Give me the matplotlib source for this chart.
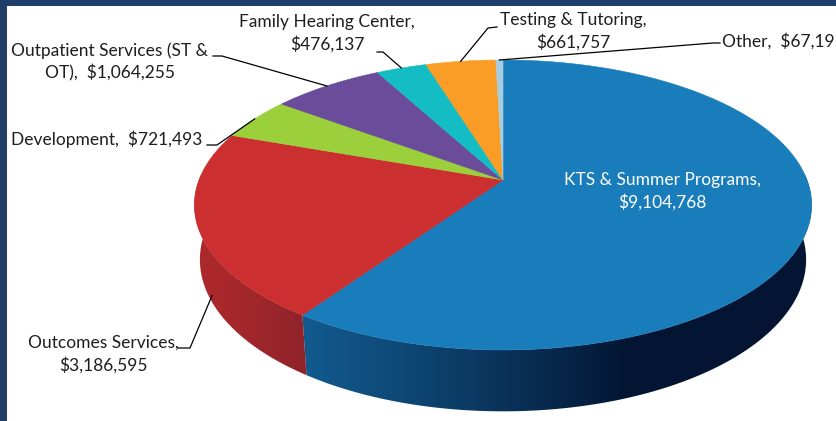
import numpy as np
import matplotlib
matplotlib.use('Agg')
import matplotlib.pyplot as plt
from matplotlib.patches import Polygon, Rectangle

# data (clockwise from 12 o'clock)
categories = ['KTS & Summer Programs', 'Outcomes Services', 'Development',
              'Outpatient Services (ST & OT)', 'Family Hearing Center',
              'Testing & Tutoring', 'Other']
values = [9104768, 3186595, 721493, 1064255, 476137, 661757, 67195]
colors = ['#1a7dbb', '#cc2f2f', '#9bcf3b', '#6a4c9a', '#14bcc4', '#f99d27', '#a6cde0']
# label text as wrapped in the chart
label_names = ['KTS & Summer Programs,\n', 'Outcomes Services,\n', 'Development,  ',
               'Outpatient Services (ST &\nOT),  ', 'Family Hearing Center,\n',
               'Testing & Tutoring,\n', 'Other,  ']

W, H = 837, 421
fig = plt.figure(figsize=(W / 100, H / 100), dpi=100)
ax = fig.add_axes([0, 0, 1, 1])
ax.axis('off')

# simple perspective camera
D, ca, sa = 5.17, 0.890, 0.456
CX, CY, SX, SY = 503, 180, 304, 308.5
DEPTH = 0.2


def project(theta, z=0.0, r=1.0):
    t = np.radians(theta)
    X, Y = r * np.cos(t), r * np.sin(t)
    dist = D + Y * ca - z * sa
    return CX + SX * X * D / dist, CY - SY * (Y * sa + z * ca) * D / dist


vals = np.array(values, dtype=float)
cum = np.concatenate([[0], np.cumsum(vals) / vals.sum()])
t_start = 90 - cum[:-1] * 360
t_end = 90 - cum[1:] * 360

dark = np.array([0.0, 0.03, 0.13])


def shade(theta, c):
    k = 0.12 + 0.72 * np.clip(np.cos(np.radians(theta - 200)), 0, None)
    c = np.array(matplotlib.colors.to_rgb(c))
    return dark + (c - dark) * k[..., None]


# angle on the front wall for every pixel column
th = np.linspace(190, 350, 3000)
thx = project(th, -DEPTH / 2)[0]
col_theta = np.interp(np.arange(W) + 0.5, thx, th)

# side wall: one gradient image per slice, clipped to the slice's wall
for i in range(len(values)):
    a = t_end[i] % 360
    b = a + (t_start[i] - t_end[i])
    a, b = max(a, 178), min(b, 362)
    if a >= b:
        a, b = max(t_end[i] % 360 - 360, -2), min(t_start[i] % 360 - 360 + 360 * (t_start[i] % 360 < t_end[i] % 360), 2)
    if a >= b:
        continue
    ts = np.linspace(a, b, 200)
    top = np.column_stack(project(ts))
    bot = np.column_stack(project(ts[::-1], -DEPTH))
    poly = Polygon(np.vstack([top, bot]), closed=True, facecolor='none', edgecolor='none')
    ax.add_patch(poly)
    img = shade(col_theta, colors[i])[None, :, :]
    im = ax.imshow(img, extent=(0, W, H, 0), aspect='auto', interpolation='bilinear')
    im.set_clip_path(poly)

# top face
for i in range(len(values)):
    ts = np.linspace(t_start[i], t_end[i], max(int(abs(t_start[i] - t_end[i]) * 2), 2))
    pts = [project(0, r=0)] + [project(t) for t in ts]
    ax.add_patch(Polygon(pts, closed=True, facecolor=colors[i], edgecolor=colors[i], lw=0.4))

# labels: text centre, leader start + elbow, anchor (angle nudge, z)
font = dict(family='Lato', size=12.5, color='#1e1e1e', linespacing=1.42)
labels = [
    (1, (103, 354), [(178, 348), (190, 348)], (8, -0.85)),
    (2, (107, 139), [(207, 145), (217, 145)], (0, 0)),
    (3, (110, 62), [(213, 56), (222, 56)], (0, 0)),
    (4, (327, 33), [(377, 52), (383, 52)], (0, 0)),
    (5, (573, 31), [(497, 27), (488, 28)], (0, 0)),
]
for i, (tx, ty), elbow, (dt, dz) in labels:
    tm = (t_start[i] + t_end[i]) / 2 + dt
    ax.text(tx, ty, f"{label_names[i]}${values[i]:,}", ha='center', va='center',
            multialignment='center', **font)
    ex, ey = project(tm, dz * DEPTH)
    xs = [p[0] for p in elbow] + [ex]
    ys = [p[1] for p in elbow] + [ey]
    ax.plot(xs, ys, color='black', lw=0.9)

# "Other" label sits to the right, left aligned
tm = (t_start[6] + t_end[6]) / 2
ax.text(722, 41, f"{label_names[6]}${values[6]:,}", ha='left', va='center', **font)
ex, ey = project(tm)
ax.plot([720, 713, ex], [43, 43, ey], color='black', lw=0.9)

# KTS label inside slice
ax.text(662, 191, f"{label_names[0]}${values[0]:,}", ha='center', va='center',
        multialignment='center', **dict(font, color='white'))

# slide frame
ax.add_patch(Rectangle((0, 0), W, 6, facecolor='#1f3f6a', edgecolor='none'))
ax.add_patch(Rectangle((0, 0), 7, H, facecolor='#1f3f6a', edgecolor='none'))

ax.set_xlim(0, W)
ax.set_ylim(H, 0)
fig.savefig('out.png', dpi=100)
